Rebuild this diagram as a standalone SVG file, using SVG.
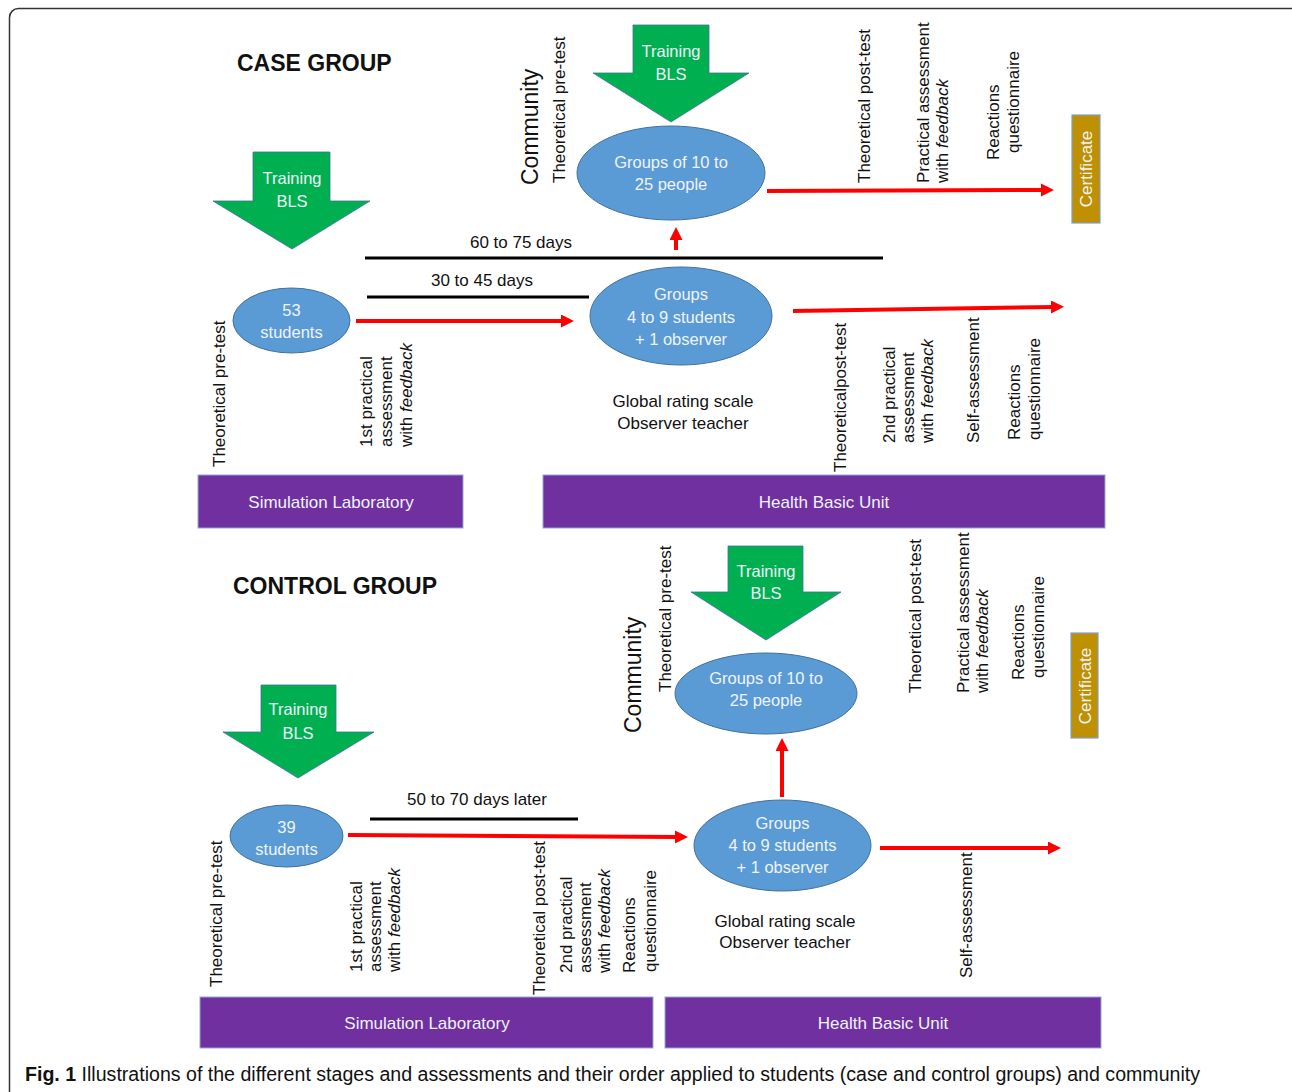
<svg xmlns="http://www.w3.org/2000/svg" width="1292" height="1092" viewBox="0 0 1292 1092">
<style>
text{font-family:"Liberation Sans",Arial,sans-serif;fill:#111}
.t{font-size:17px}
.h{font-size:23px;font-weight:bold}
.c{font-size:23px}
.w{fill:#eef3fa;font-size:16.5px;text-anchor:middle}
.m{text-anchor:middle}
.e{fill:#5b9bd5;stroke:#41719c;stroke-width:1}
.g{fill:#00b050;stroke:#41719c;stroke-width:0.8}
.p{fill:#7030a0;stroke:#8fa9d0;stroke-width:1}
.cert{fill:#bf9000;stroke:#7f9fcf;stroke-width:1.2}
.r{stroke:#ff0000;stroke-width:4;fill:none;marker-end:url(#ah)}
.k{stroke:#000;stroke-width:3}
i,.it{font-style:italic}
</style>
<defs>
<marker id="ah" markerUnits="userSpaceOnUse" markerWidth="14" markerHeight="14" refX="3" refY="6.5" orient="auto">
<path d="M0,0 L13,6.5 L0,13 z" fill="#ff0000"/>
</marker>
</defs>
<rect x="9.5" y="8.5" width="1290" height="1110" rx="9" fill="#fff" stroke="#333" stroke-width="1.5"/>

<g id="connectors">
<line class="k" x1="365" y1="258" x2="883" y2="258"/>
<line class="k" x1="367" y1="297" x2="589" y2="297"/>
<line class="k" x1="370" y1="819" x2="578" y2="819"/>
<path class="r" d="M767,191 L1044,190"/>
<path class="r" d="M676,250 L676,237"/>
<path class="r" d="M356,321 L564,321"/>
<path class="r" d="M793,311 L1054,307"/>
<path class="r" d="M348,835 L678,837"/>
<path class="r" d="M782,797 L782,748"/>
<path class="r" d="M880,848 L1051,848"/>
</g>

<g id="case-title"><text class="h" x="237" y="71">CASE GROUP</text></g>
<g id="control-title"><text class="h" x="233" y="594">CONTROL GROUP</text></g>

<g id="case-training-top">
<polygon class="g" points="633,25 709,25 709,73 749,73 671,122 593,73 633,73"/>
<text class="w" x="671" y="57">Training</text>
<text class="w" x="671" y="80">BLS</text>
</g>
<g id="case-training-left">
<polygon class="g" points="253,152 330,152 330,201 370,201 292,249 213,201 253,201"/>
<text class="w" x="292" y="184">Training</text>
<text class="w" x="292" y="207">BLS</text>
</g>
<g id="ctrl-training-left">
<polygon class="g" points="261,685 336,685 336,732 374,732 298,778 223,732 261,732"/>
<text class="w" x="298" y="715">Training</text>
<text class="w" x="298" y="739">BLS</text>
</g>
<g id="ctrl-training-top">
<polygon class="g" points="728,546 803,546 803,592 841,592 766,640 691,592 728,592"/>
<text class="w" x="766" y="577">Training</text>
<text class="w" x="766" y="599">BLS</text>
</g>

<g id="case-community-groups">
<ellipse class="e" cx="671" cy="173" rx="94" ry="47"/>
<text class="w" x="671" y="168">Groups of 10 to</text>
<text class="w" x="671" y="190">25 people</text>
</g>
<g id="case-students">
<ellipse class="e" cx="291.5" cy="320.5" rx="58.5" ry="32.5"/>
<text class="w" x="291.5" y="316">53</text>
<text class="w" x="291.5" y="338">students</text>
</g>
<g id="case-groups">
<ellipse class="e" cx="681" cy="316" rx="91" ry="49"/>
<text class="w" x="681" y="300">Groups</text>
<text class="w" x="681" y="323">4 to 9 students</text>
<text class="w" x="681" y="345">+ 1 observer</text>
</g>
<g id="ctrl-community-groups">
<ellipse class="e" cx="766" cy="693.5" rx="91" ry="40.5"/>
<text class="w" x="766" y="684">Groups of 10 to</text>
<text class="w" x="766" y="706">25 people</text>
</g>
<g id="ctrl-students">
<ellipse class="e" cx="286.5" cy="836" rx="56.5" ry="31"/>
<text class="w" x="286.5" y="833">39</text>
<text class="w" x="286.5" y="855">students</text>
</g>
<g id="ctrl-groups">
<ellipse class="e" cx="782.5" cy="845.5" rx="88.5" ry="45.5"/>
<text class="w" x="782.5" y="829">Groups</text>
<text class="w" x="782.5" y="851">4 to 9 students</text>
<text class="w" x="782.5" y="873">+ 1 observer</text>
</g>

<g id="case-sim-lab">
<rect class="p" x="198" y="475" width="265" height="53"/>
<text class="w" x="331" y="508" style="font-size:17px">Simulation Laboratory</text>
</g>
<g id="case-health">
<rect class="p" x="543" y="475" width="562" height="53"/>
<text class="w" x="824" y="508" style="font-size:17px">Health Basic Unit</text>
</g>
<g id="ctrl-sim-lab">
<rect class="p" x="200" y="997" width="453" height="51"/>
<text class="w" x="427" y="1029" style="font-size:17px">Simulation Laboratory</text>
</g>
<g id="ctrl-health">
<rect class="p" x="665" y="997" width="436" height="51"/>
<text class="w" x="883" y="1029" style="font-size:17px">Health Basic Unit</text>
</g>
<g id="case-certificate">
<rect class="cert" x="1072" y="115" width="28" height="108"/>
<text class="w" transform="translate(1092,169) rotate(-90)" style="font-size:17px">Certificate</text>
</g>
<g id="ctrl-certificate">
<rect class="cert" x="1071" y="633" width="27" height="105"/>
<text class="w" transform="translate(1091,686) rotate(-90)" style="font-size:17px">Certificate</text>
</g>

<g id="case-labels">
<text class="c" transform="translate(538,185) rotate(-90)">Community</text>
<text class="t" transform="translate(565,183) rotate(-90)">Theoretical pre-test</text>
<text class="t" transform="translate(870,183) rotate(-90)">Theoretical post-test</text>
<text class="t" transform="translate(929,183) rotate(-90)">Practical assessment</text>
<text class="t" transform="translate(948,183) rotate(-90)">with <tspan class="it">feedback</tspan></text>
<text class="t" transform="translate(999,160) rotate(-90)">Reactions</text>
<text class="t" transform="translate(1019,153) rotate(-90)">questionnaire</text>
<text class="t m" x="521" y="248">60 to 75 days</text>
<text class="t m" x="482" y="286">30 to 45 days</text>
<text class="t" transform="translate(225,467) rotate(-90)">Theoretical pre-test</text>
<text class="t" transform="translate(372,447) rotate(-90)">1st practical</text>
<text class="t" transform="translate(392,447) rotate(-90)">assessment</text>
<text class="t" transform="translate(412,447) rotate(-90)">with <tspan class="it">feedback</tspan></text>
<text class="t m" x="683" y="407">Global rating scale</text>
<text class="t m" x="683" y="429">Observer teacher</text>
<text class="t" transform="translate(846,472) rotate(-90)">Theoreticalpost-test</text>
<text class="t" transform="translate(895,443) rotate(-90)">2nd practical</text>
<text class="t" transform="translate(914,443) rotate(-90)">assessment</text>
<text class="t" transform="translate(933,443) rotate(-90)">with <tspan class="it">feedback</tspan></text>
<text class="t" transform="translate(979,443) rotate(-90)">Self-assessment</text>
<text class="t" transform="translate(1020,440) rotate(-90)">Reactions</text>
<text class="t" transform="translate(1040,440) rotate(-90)">questionnaire</text>
</g>

<g id="ctrl-labels">
<text class="c" transform="translate(641,733) rotate(-90)">Community</text>
<text class="t" transform="translate(671,692) rotate(-90)">Theoretical pre-test</text>
<text class="t" transform="translate(921,693) rotate(-90)">Theoretical post-test</text>
<text class="t" transform="translate(969,693) rotate(-90)">Practical assessment</text>
<text class="t" transform="translate(988,693) rotate(-90)">with <tspan class="it">feedback</tspan></text>
<text class="t" transform="translate(1024,680) rotate(-90)">Reactions</text>
<text class="t" transform="translate(1044,678) rotate(-90)">questionnaire</text>
<text class="t m" x="477" y="805">50 to 70 days later</text>
<text class="t" transform="translate(222,987) rotate(-90)">Theoretical pre-test</text>
<text class="t" transform="translate(362,972) rotate(-90)">1st practical</text>
<text class="t" transform="translate(381,972) rotate(-90)">assessment</text>
<text class="t" transform="translate(400,972) rotate(-90)">with <tspan class="it">feedback</tspan></text>
<text class="t" transform="translate(545,995) rotate(-90)">Theoretical post-test</text>
<text class="t" transform="translate(572,973) rotate(-90)">2nd practical</text>
<text class="t" transform="translate(591,973) rotate(-90)">assessment</text>
<text class="t" transform="translate(610,973) rotate(-90)">with <tspan class="it">feedback</tspan></text>
<text class="t" transform="translate(635,973) rotate(-90)">Reactions</text>
<text class="t" transform="translate(656,972) rotate(-90)">questionnaire</text>
<text class="t m" x="785" y="927">Global rating scale</text>
<text class="t m" x="785" y="948">Observer teacher</text>
<text class="t" transform="translate(972,978) rotate(-90)">Self-assessment</text>
</g>

<g id="caption">
<text x="25" y="1081" style="font-size:20px" textLength="1175" lengthAdjust="spacingAndGlyphs"><tspan font-weight="bold">Fig. 1</tspan> Illustrations of the different stages and assessments and their order applied to students (case and control groups) and community</text>
</g>
</svg>
